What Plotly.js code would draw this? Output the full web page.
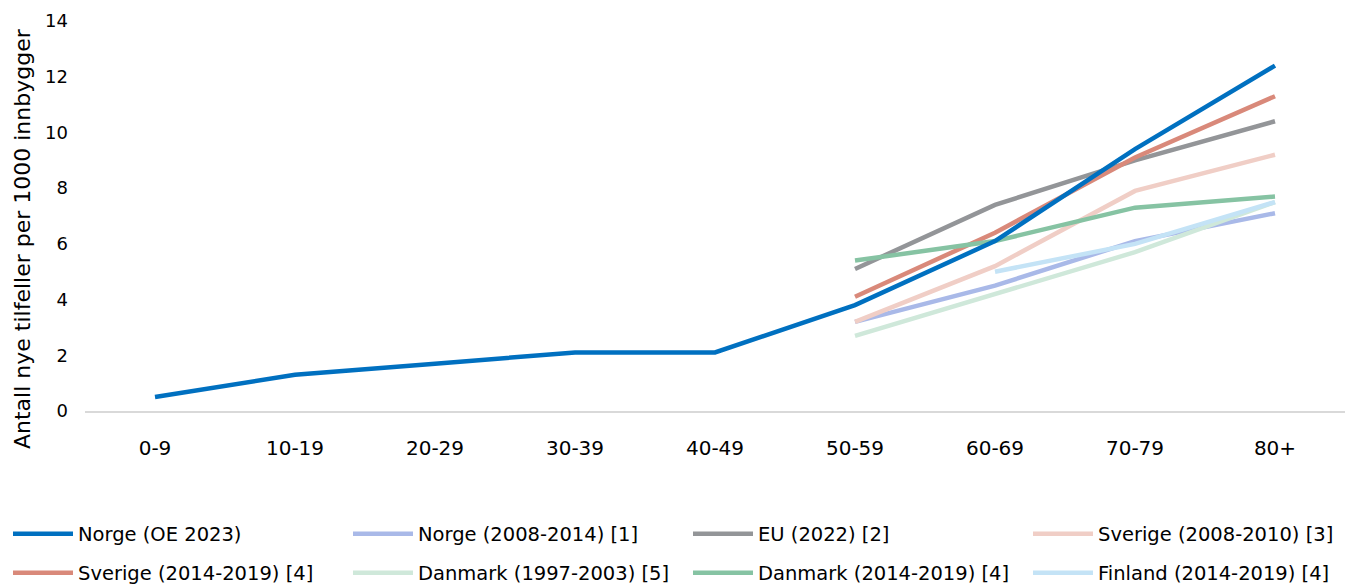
<!DOCTYPE html>
<html><head><meta charset="utf-8">
<script src="https://cdn.plot.ly/plotly-3.0.1.min.js"></script>
<style>html,body{margin:0;padding:0;background:#fff}#chart{width:1345px;height:584px}</style>
</head><body><div id="chart"></div>
<script>
const categories = ["0-9","10-19","20-29","30-39","40-49","50-59","60-69","70-79","80+"];
const norgeOE2023 = [0.5, 1.3, 1.7, 2.1, 2.1, 3.8, 6.1, 9.4, 12.4];
const norge2008 = [null, null, null, null, null, 3.2, 4.5, 6.1, 7.1];
const eu2022 = [null, null, null, null, null, 5.1, 7.4, 9.0, 10.4];
const sverige2008 = [null, null, null, null, null, 3.2, 5.2, 7.9, 9.2];
const sverige2014 = [null, null, null, null, null, 4.1, 6.4, 9.1, 11.3];
const danmark1997 = [null, null, null, null, null, 2.7, 4.2, 5.7, 7.5];
const danmark2014 = [null, null, null, null, null, 5.4, 6.1, 7.3, 7.7];
const finland2014 = [null, null, null, null, null, null, 5.0, 6.0, 7.5];

const seriesNames = ["Norge (OE 2023)","Norge (2008-2014) [1]","EU (2022) [2]","Sverige (2008-2010) [3]","Sverige (2014-2019) [4]","Danmark (1997-2003) [5]","Danmark (2014-2019) [4]","Finland (2014-2019) [4]"];
const seriesData = [norgeOE2023, norge2008, eu2022, sverige2008, sverige2014, danmark1997, danmark2014, finland2014];
const colors = ["#0070C0","#A9B9E8","#939598","#F0CEC6","#D9897A","#CFE8DA","#86C3A3","#C4E3F6"];
const drawOrder = [1,2,3,4,5,6,7,0];
const yTitle = 'Antall nye tilfeller per 1000 innbygger';

const legendIds = seriesNames.map((n,i)=> i === 0 ? 'legend' : 'legend' + (i+1));
const traces = seriesNames.map((n,i)=>({
  type:'scatter', mode:'lines', name:n, x:categories, y:seriesData[i],
  line:{color:colors[i], width:4.5}, connectgaps:false,
  legend: legendIds[i]
}));
const data = drawOrder.map(i=>traces[i]);

const font = "'DejaVu Sans', sans-serif";
const layout = {
  width:1345, height:584,
  margin:{l:85, r:0, t:21, b:173},
  paper_bgcolor:'#fff', plot_bgcolor:'#fff',
  font:{family:font, size:18, color:'#000'},
  showlegend:true,
  xaxis:{type:'category', range:[-0.5, 8.5], showgrid:false, zeroline:false, showline:true, linecolor:'#d9d9d9', linewidth:1.5,
    ticks:'', tickfont:{size:20}, ticklabelstandoff:18, automargin:false},
  yaxis:{range:[0,14], dtick:2, showgrid:false, zeroline:false, showline:false, ticks:'',
    tickfont:{size:18}, ticklabelstandoff:16, automargin:false},
  annotations:[{text:yTitle, textangle:-90, xref:'paper', yref:'paper', x:(22-85)/1260, y:(411-239)/390,
    xanchor:'center', yanchor:'middle', showarrow:false, font:{family:font, size:22, color:'#000'}}]
};
legendIds.forEach((id,i)=>{
  const col = i % 4, row = Math.floor(i/4);
  layout[id] = {orientation:'h', xanchor:'left', yanchor:'middle', xref:'container', yref:'container',
    x:(8 + col*340)/1345, y:(584 - (row===0 ? 534 : 573))/584,
    itemwidth:60, bgcolor:'rgba(0,0,0,0)', font:{family:font, size:19.5, color:'#000'}};
});
Plotly.newPlot('chart', data, layout, {displayModeBar:false});
</script></body></html>
